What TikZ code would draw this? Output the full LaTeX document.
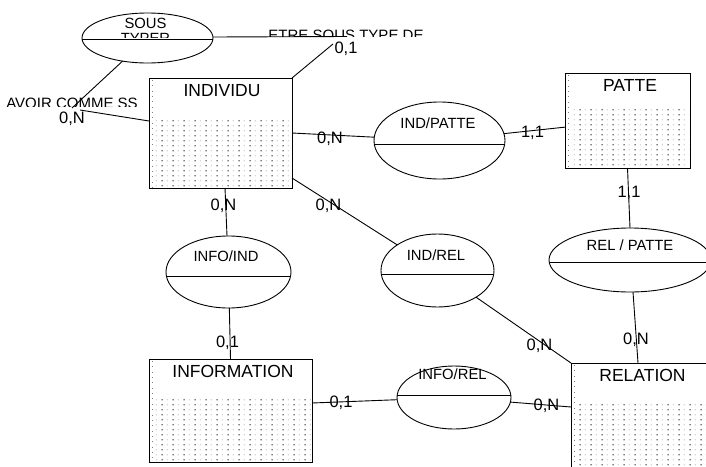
\documentclass[tikz,border=0pt]{standalone}
\usepackage{fontspec}
\setmainfont{Liberation Sans}
\usetikzlibrary{shapes.geometric,patterns,calc}
\pgfdeclarepatterninherentlycolored{erdots}{\pgfpointorigin}{\pgfqpoint{10.7pt}{5.35pt}}{\pgfqpoint{10.7pt}{5.35pt}}{%
  \pgfsetfillcolor{black!50}%
  \pgfpathrectangle{\pgfqpoint{1.5pt}{1.8pt}}{\pgfqpoint{1.5pt}{1.5pt}}%
  \pgfusepath{fill}%
  \pgfsetfillcolor{black!25}%
  \pgfpathrectangle{\pgfqpoint{7pt}{1.8pt}}{\pgfqpoint{0.8pt}{1.5pt}}%
  \pgfusepath{fill}%
}
\tikzset{
  entity/.style={rectangle, draw=black, fill=white, line width=0.9pt, inner sep=0pt, outer sep=0pt,
    path picture={
      \fill[pattern=erdots] ([xshift=6pt,yshift=1pt]path picture bounding box.south west) rectangle ([xshift=-1pt,yshift=-#1]path picture bounding box.north east);
      \draw[black!50, line width=1pt, dash pattern=on 1pt off 4.35pt] ([xshift=3pt,yshift=-2pt]path picture bounding box.north west) -- ([xshift=3pt]path picture bounding box.south west);
    }},
  rel/.style={ellipse, draw=black, fill=white, line width=0.9pt, inner sep=0pt, outer sep=0pt,
    path picture={
      \draw[line width=0.9pt] ([yshift=#1]path picture bounding box.west) -- ([yshift=#1]path picture bounding box.east);
    }},
  etitle/.style={anchor=base, inner sep=0pt, font=\fontsize{17.5}{20}\selectfont},
  rtitle/.style={anchor=base, inner sep=0pt, font=\fontsize{14.8}{17}\selectfont},
  role/.style={anchor=base, inner sep=0pt, font=\fontsize{15}{17}\selectfont},
  card/.style={anchor=base, inner sep=0pt, font=\fontsize{16.5}{19}\selectfont},
  link/.style={draw=black, line width=0.9pt}
}
\begin{document}
\begin{tikzpicture}[x=1pt,y=-1pt]
\useasboundingbox (0,0) rectangle (706,466);
\clip (0,0) rectangle (706,466);

% entities
\node[entity=40pt, minimum width=143pt, minimum height=110pt] (indiv) at (220.5,133) {};
\node[entity=35pt, minimum width=125pt, minimum height=95pt] (patte) at (627.5,120.5) {};
\node[entity=39pt, minimum width=163pt, minimum height=103pt] (information) at (230.5,410.5) {};
\node[entity=40pt, minimum width=150pt, minimum height=120pt] (relation) at (646,423) {};

\node[etitle] (indiv-t) at (222,96.5) {INDIVIDU};
\node[etitle] (patte-t) at (630,91) {PATTE};
\node[etitle] (information-t) at (233,377.5) {INFORMATION};
\node[etitle] (relation-t) at (642.5,381.5) {RELATION};

% relationships
\node[rel=-1pt, minimum width=131pt, minimum height=50pt] (sous) at (147.5,38) {};
\node[rel=-3.5pt, minimum width=131pt, minimum height=77pt] (indpatte) at (439.5,140.5) {};
\node[rel=-3.5pt, minimum width=113pt, minimum height=73pt] (indrel) at (437.5,270.5) {};
\node[rel=-4pt, minimum width=125pt, minimum height=72pt] (infoind) at (228.5,272) {};
\node[rel=2.5pt, minimum width=114pt, minimum height=63pt] (inforel) at (454,397.5) {};
\node[rel=-2pt, minimum width=162pt, minimum height=64pt] (relpatte) at (630,260) {};

\node[rtitle] (sous-t) at (145.5,28.5) {SOUS};
\begin{scope}
  \clip (82,0) rectangle (213,37.8);
  \node[rtitle] (sous-t2) at (145.5,43.5) {TYPER};
\end{scope}
\node[rtitle] (indpatte-t) at (438,128.5) {IND/PATTE};
\node[rtitle] (indrel-t) at (436,260) {IND/REL};
\node[rtitle] (infoind-t) at (226,261.5) {INFO/IND};
\node[rtitle] (inforel-t) at (452.5,379) {INFO/REL};
\node[rtitle] (relpatte-t) at (630,250.5) {REL / PATTE};

% role names (clipped)
\begin{scope}
  \clip (250,0) rectangle (440,36);
  \node[role] (etre-t) at (346,40.5) {ETRE SOUS TYPE DE};
\end{scope}
\begin{scope}
  \clip (0,80) rectangle (150,106.5);
  \node[role] (avoir-t) at (72,108.5) {AVOIR COMME SS};
\end{scope}

% free ends of the reflexive links
\coordinate (k1) at (347,36.5);
\coordinate (k2) at (333,44);
\coordinate (k3) at (80,110);
\coordinate (k4) at (72,108);

% connectors
\draw[link] ([yshift=1pt]sous.east) -- (k1);
\draw[link] (k2) -- (indiv.north east);
\draw[link] (sous) -- (k4);
\draw[link] (k3) -- ([yshift=12pt]indiv.west);
\draw[link] (indiv.east) -- (indpatte);
\draw[link] (indpatte) -- (patte);
\draw[link] (patte.south) -- (relpatte.north);
\draw[link] ([xshift=3pt]relpatte.south) -- ([xshift=-8pt]relation.north);
\draw[link] ([yshift=10pt]indiv.south east) -- (indrel);
\draw[link] (indrel) -- (relation.north west);
\draw[link] ([xshift=4.5pt]indiv.south) -- (infoind);
\draw[link] (infoind) -- (information.north);
\draw[link] ([yshift=7.5pt]information.east) -- (inforel);
\draw[link] (inforel) -- ([yshift=16pt]relation.west);

% cardinalities
\node[card] (c1) at (346,53) {0,1};
\node[card] (c2) at (72,123.5) {0,N};
\node[card] (c3) at (330,143) {0,N};
\node[card] (c4) at (532.5,137) {1,1};
\node[card] (c5) at (629,197) {1,1};
\node[card] (c6) at (223.5,210) {0,N};
\node[card] (c7) at (328.5,210) {0,N};
\node[card] (c8) at (227.5,347) {0,1};
\node[card] (c9) at (539.5,350) {0,N};
\node[card] (c10) at (636,344) {0,N};
\node[card] (c11) at (341,407) {0,1};
\node[card] (c12) at (546.5,410) {0,N};
\end{tikzpicture}
\end{document}
